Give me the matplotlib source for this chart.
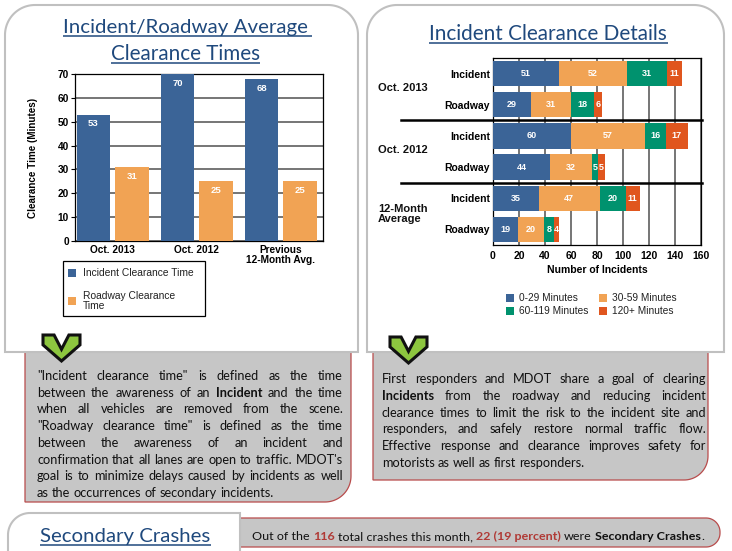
import matplotlib
matplotlib.use('Agg')
import matplotlib.pyplot as plt
from matplotlib.patches import Polygon, Rectangle
import numpy as np

# ---------------- data ----------------
bar_categories = ["Oct. 2013", "Oct. 2012", "Previous\n12-Month Avg."]
bar_series = ["Incident Clearance Time", "Roadway Clearance\nTime"]
incident_clearance = [53, 70, 68]
roadway_clearance = [31, 25, 25]

detail_groups = ["Oct. 2013", "Oct. 2012", "12-Month\nAverage"]
detail_rows = ["Incident", "Roadway", "Incident", "Roadway", "Incident", "Roadway"]
detail_bins = ["0-29 Minutes", "30-59 Minutes", "60-119 Minutes", "120+ Minutes"]
min_0_29 = [51, 29, 60, 44, 35, 19]
min_30_59 = [52, 31, 57, 32, 47, 20]
min_60_119 = [31, 18, 16, 5, 20, 8]
min_120_plus = [11, 6, 17, 5, 11, 4]

total_crashes = 116
secondary_crashes = 22
secondary_pct = 19

# ---------------- style ----------------
W, H = 732, 551
BLUE = '#3b6497'
ORANGE = '#f1a354'
GREEN = '#00926e'
RED = '#e0561e'
TITLE_C = '#1f497d'
TXT = '#111111'
DKRED = '#b03a36'
BODY = 'Lato'
CH = 'Liberation Sans'

fig = plt.figure(figsize=(W / 100, H / 100), dpi=100)
fig.patch.set_facecolor('white')
ov = fig.add_axes([0, 0, 1, 1])
ov.set_xlim(0, W)
ov.set_ylim(H, 0)
ov.axis('off')
r = fig.canvas.get_renderer()


def rrect_pts(x0, y0, x1, y1, rtl, rtr, rbr, rbl, n=24):
    pts = []

    def arc(cx, cy, rad, a0, a1):
        if rad <= 0:
            return [(cx, cy)]
        th = np.radians(np.linspace(a0, a1, n))
        return list(zip(cx + rad * np.cos(th), cy + rad * np.sin(th)))
    pts += arc(x0 + rtl, y0 + rtl, rtl, 180, 270)
    pts += arc(x1 - rtr, y0 + rtr, rtr, 270, 360)
    pts += arc(x1 - rbr, y1 - rbr, rbr, 0, 90)
    pts += arc(x0 + rbl, y1 - rbl, rbl, 90, 180)
    return pts


def tw(s, size, weight='normal', family=BODY):
    t = ov.text(0, 0, s, fontsize=size, fontweight=weight, family=family)
    w = t.get_window_extent(renderer=r).width
    t.remove()
    return w


# gray text boxes (behind panels)
ov.add_patch(Polygon(rrect_pts(25, 345, 351, 502, 0, 0, 26, 0), closed=True,
                     facecolor='#c6c6c6', edgecolor='#b84c4c', lw=0.9, zorder=1))
ov.add_patch(Polygon(rrect_pts(373, 345, 708, 480, 0, 0, 24, 0), closed=True,
                     facecolor='#c6c6c6', edgecolor='#b84c4c', lw=0.9, zorder=1))
# panels
for x0, x1 in [(5, 358), (367, 724)]:
    ov.add_patch(Polygon(rrect_pts(x0, 5, x1, 352, 30, 30, 0, 0), closed=True,
                         facecolor='white', edgecolor='#c0c0c0', lw=1.5, zorder=2))

# chevrons
def chevron(x0, y0, x1, y1):
    u = [0, 0.3, 0.5, 0.7, 1, 1, 0.5, 0]
    v = [0, 0, 0.55, 0, 0, 0.38, 1, 0.38]
    pts = [(x0 + a * (x1 - x0), y0 + b * (y1 - y0)) for a, b in zip(u, v)]
    ov.add_patch(Polygon(pts, closed=True, facecolor='#8dc63f', edgecolor='#111111',
                         lw=2.2, joinstyle='miter', zorder=6))

chevron(43, 335, 80, 361)
chevron(390, 337, 427, 363)

# bottom banner
ov.add_patch(Polygon(rrect_pts(225, 518, 720, 547, 0, 14, 14, 0), closed=True,
                     facecolor='#c6c6c6', edgecolor='#b84c4c', lw=0.9, zorder=1))
ov.add_patch(Polygon(rrect_pts(8, 513, 240, 580, 22, 0, 0, 22), closed=True,
                     facecolor='white', edgecolor='#c0c0c0', lw=1.5, zorder=2))


# titles (fit to width)
def title(s, x0, x1, base, ul_extra=0):
    size = 15 * (x1 - x0) / tw(s, 15)
    ov.text(x0, base, s, fontsize=size, family=BODY, color=TITLE_C,
            ha='left', va='baseline', zorder=5)
    ov.plot([x0, x1 + ul_extra], [base + 2.5, base + 2.5], color=TITLE_C, lw=1.1,
            zorder=5, solid_capstyle='butt')

title("Incident/Roadway Average", 63, 308, 33, ul_extra=4)
title("Clearance Times", 111, 260, 60)
title("Incident Clearance Details", 429, 668, 40)
title("Secondary Crashes", 40, 211, 542)

# justified body text
left_lines = [
    '"Incident clearance time" is defined as the time',
    'between the awareness of an **Incident** and the time',
    'when all vehicles are removed from the scene.',
    '"Roadway clearance time" is defined as the time',
    'between the awareness of an incident and',
    "confirmation that all lanes are open to traffic. MDOT's",
    'goal is to minimize delays caused by incidents as well',
    'as the occurrences of secondary incidents.',
]
right_lines = [
    'First responders and MDOT share a goal of clearing',
    '**Incidents** from the roadway and reducing incident',
    'clearance times to limit the risk to the incident site and',
    'responders, and safely restore normal traffic flow.',
    'Effective response and clearance improves safety for',
    'motorists as well as first responders.',
]

body_size = 10 * (236 / tw(left_lines[-1], 10) + 204 / tw(right_lines[-1], 10)) / 2
space_w = tw('a a', body_size) - tw('aa', body_size)


def draw_par(lines, x0, x1, y0, dy):
    for i, line in enumerate(lines):
        words = []
        for w in line.split(' '):
            if w.startswith('**'):
                words.append((w.strip('*'), 'bold'))
            else:
                words.append((w, 'normal'))
        widths = [tw(w, body_size, b) for w, b in words]
        last = i == len(lines) - 1
        gap = space_w if last else (x1 - x0 - sum(widths)) / (len(words) - 1)
        x = x0
        for (w, b), wd in zip(words, widths):
            ov.text(x, y0 + i * dy, w, fontsize=body_size, fontweight=b, family=BODY,
                    color=TXT, ha='left', va='baseline', zorder=5)
            x += wd + gap

draw_par(left_lines, 37, 343, 380, 16.7)
draw_par(right_lines, 382, 706, 383, 16.8)

# banner text (runs of mixed style)
runs = [("Out of the ", 'normal', TXT), (str(total_crashes), 'bold', DKRED),
        (" total crashes this month, ", 'normal', TXT),
        ("%d (%d percent)" % (secondary_crashes, secondary_pct), 'bold', DKRED),
        (" were ", 'normal', TXT), ("Secondary Crashes", 'bold', TXT), (".", 'normal', TXT)]


def run_positions(size):
    # position each run by measuring "X" + text so trailing/leading spaces count
    pos = []
    x = 0.0
    xw = tw('X', size)
    for s, b, c in runs:
        w = tw('X' + s + 'X', size, b) - 2 * tw('X', size, b)
        pos.append(x)
        x += w
    return pos, x

_, tot9 = run_positions(9)
bsize = 9 * 452 / tot9
pos, _ = run_positions(bsize)
for (s, b, c), px in zip(runs, pos):
    lead = len(s) - len(s.lstrip(' '))
    core = s.strip(' ')
    off = (tw('X' + ' ' * lead + 'X', bsize, b) - 2 * tw('X', bsize, b)) if lead else 0
    ov.text(252 + px + off, 540, core, fontsize=bsize, fontweight=b, color=c, family=BODY,
            ha='left', va='baseline', zorder=5)

# ---------------- left bar chart ----------------
axL = fig.add_axes([75 / W, 1 - 241 / H, 248 / W, 167 / H])
xc = np.arange(len(bar_categories))
bw = 0.40
bL1 = axL.bar(xc - 0.23, incident_clearance, bw, color=BLUE, zorder=3)
bL2 = axL.bar(xc + 0.23, roadway_clearance, bw, color=ORANGE, zorder=3)
for bars, vals in [(bL1, incident_clearance), (bL2, roadway_clearance)]:
    for b, v in zip(bars, vals):
        axL.annotate(str(v), (b.get_x() + b.get_width() / 2, v), xytext=(0, -3.5),
                     textcoords='offset points', ha='center', va='top', color='white',
                     fontsize=6.8, fontweight='bold', family=CH, zorder=4)
axL.set_xlim(-0.45, 2.5)
axL.set_ylim(0, 70)
axL.set_yticks(range(0, 71, 10))
axL.set_yticklabels([str(v) for v in range(0, 71, 10)], fontsize=7.3, fontweight='bold', family=CH)
axL.set_xticks(xc)
axL.set_xticklabels(bar_categories, fontsize=7.3, fontweight='bold', family=CH, linespacing=1.0)
axL.tick_params(axis='x', length=0, pad=3)
axL.tick_params(axis='y', length=3, width=0.8, pad=1.5)
axL.yaxis.grid(True, color='#505050', lw=1.1)
axL.set_axisbelow(True)
for sp in axL.spines.values():
    sp.set_color('black')
    sp.set_linewidth(0.9)
axL.set_ylabel("Clearance Time (Minutes)", fontsize=7.1, fontweight='bold', family=CH)
axL.yaxis.set_label_coords(-0.149, 0.5)

# left legend
ov.add_patch(Rectangle((63, 261), 142, 55, facecolor='white', edgecolor='black', lw=0.9, zorder=3))
for (yc, col, lab) in [(273, BLUE, bar_series[0]), (301, ORANGE, bar_series[1])]:
    ov.add_patch(Rectangle((68, yc - 4), 8, 8, facecolor=col, edgecolor='none', zorder=4))
    ov.text(83, yc, lab, fontsize=7.4, family=CH, color='#222222', ha='left', va='center',
            linespacing=0.95, zorder=4)

# ---------------- right stacked bar chart ----------------
axR = fig.add_axes([493 / W, 1 - 245 / H, 208 / W, 187 / H])
yc = np.arange(len(detail_rows))
lefts = np.zeros(len(detail_rows))
for vals, col in zip([min_0_29, min_30_59, min_60_119, min_120_plus], [BLUE, ORANGE, GREEN, RED]):
    vals = np.array(vals, dtype=float)
    axR.barh(yc, vals, left=lefts, height=0.81, color=col, zorder=3)
    for yy, l, v in zip(yc, lefts, vals):
        axR.text(l + v / 2, yy, '%d' % v, ha='center', va='center', color='white',
                 fontsize=6.5, fontweight='bold', family=CH, zorder=4)
    lefts += vals
axR.set_xlim(0, 160)
axR.set_ylim(5.5, -0.5)
axR.set_xticks(range(0, 161, 20))
axR.set_xticklabels([str(v) for v in range(0, 161, 20)], fontsize=7.5, fontweight='bold', family=CH)
axR.set_yticks(yc)
axR.set_yticklabels(detail_rows, fontsize=7.5, fontweight='bold', family=CH)
axR.tick_params(axis='x', length=0, pad=4)
axR.tick_params(axis='y', length=0, pad=2)
axR.xaxis.grid(True, color='#505050', lw=1.1)
axR.set_axisbelow(True)
for sp in axR.spines.values():
    sp.set_color('black')
    sp.set_linewidth(0.9)
for ysep in [1.5, 3.5]:
    axR.plot([-71, 161], [ysep, ysep], color='black', lw=1.8, clip_on=False, zorder=5)
axR.set_xlabel("Number of Incidents", fontsize=7.5, fontweight='bold', family=CH, labelpad=3)

# group labels
for lab, yg in zip(detail_groups, [88, 150, 214]):
    ov.text(378, yg, lab, fontsize=8, fontweight='bold', family=CH, ha='left', va='center',
            linespacing=1.05, color='#111111', zorder=4)

# right legend
for i, (lab, col) in enumerate(zip(detail_bins, [BLUE, ORANGE, GREEN, RED])):
    xs = [506, 599][i % 2]
    yv = [298, 311][i // 2]
    ov.add_patch(Rectangle((xs, yv - 4), 8, 8, facecolor=col, edgecolor='none', zorder=4))
    ov.text(xs + 13, yv, lab, fontsize=7.3, family=CH, color='#222222', ha='left',
            va='center', zorder=4)

fig.savefig('out.png', dpi=100, facecolor='white')
